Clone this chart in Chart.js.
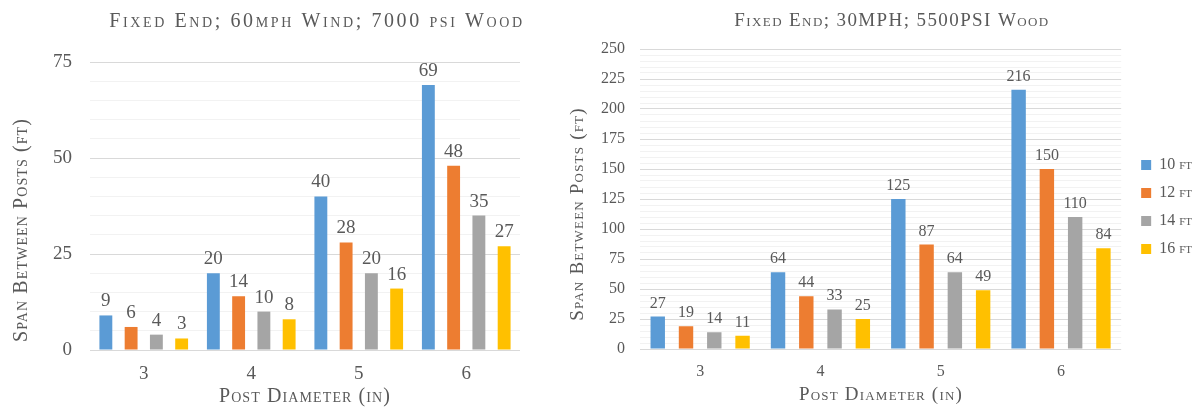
<!DOCTYPE html>
<html>
<head>
<meta charset="utf-8">
<script src="https://cdn.jsdelivr.net/npm/chart.js@4.4.1/dist/chart.umd.min.js"></script>
<style>
  html, body { margin: 0; padding: 0; background: #fff; overflow: hidden; }
  #wrap { position: relative; width: 1198px; height: 409px; }
  #left { position: absolute; left: 0; top: 0; width: 580px; height: 409px; }
  #right { position: absolute; left: 560px; top: 0; width: 638px; height: 409px; }
</style>
</head>
<body>
<div id="wrap">
  <div id="left"><canvas id="c1"></canvas></div>
  <div id="right"><canvas id="c2"></canvas></div>
</div>
<script>
// Post diameters (inches) shared by both charts
const diameters = ['3', '4', '5', '6'];
const postHeights = ['10 ft', '12 ft', '14 ft', '16 ft'];
const seriesColors = ['#5B9BD5', '#ED7D31', '#A5A5A5', '#FFC000'];

// Fixed end; 60 mph wind; 7000 psi wood: span between posts (ft)
const windSpan10 = [9, 20, 40, 69];
const windSpan12 = [6, 14, 28, 48];
const windSpan14 = [4, 10, 20, 35];
const windSpan16 = [3, 8, 16, 27];

// Fixed end; 30 mph; 5500 psi wood: span between posts (ft)
const lowSpan10 = [27, 64, 125, 216];
const lowSpan12 = [19, 44, 87, 150];
const lowSpan14 = [14, 33, 64, 110];
const lowSpan16 = [11, 25, 49, 84];

// Labelled (major) values on each value axis; minor lines every 5
const leftTicks = [0, 25, 50, 75];
const rightTicks = [0, 25, 50, 75, 100, 125, 150, 175, 200, 225, 250];

const SERIF = "'Liberation Serif', 'DejaVu Serif', serif";
const TEXT = '#595959';

// Writes each bar's value just above it
const valueLabels = {
  id: 'valueLabels',
  afterDatasetsDraw(chart, args, opts) {
    const ctx = chart.ctx;
    ctx.save();
    ctx.font = opts.size + 'px ' + SERIF;
    ctx.fillStyle = TEXT;
    ctx.textAlign = 'center';
    ctx.textBaseline = 'alphabetic';
    chart.data.datasets.forEach((ds, i) => {
      chart.getDatasetMeta(i).data.forEach((bar, j) => {
        ctx.fillText(String(ds.data[j]), bar.x, bar.y - opts.offset);
      });
    });
    ctx.restore();
  }
};

// Small-caps chart title and axis titles
function captionPlugin(items) {
  return {
    id: 'captions',
    afterDraw(chart) {
      const ctx = chart.ctx;
      items.forEach(it => {
        ctx.save();
        ctx.font = 'small-caps ' + it.size + 'px ' + SERIF;
        ctx.letterSpacing = it.spacing + 'px';
        ctx.fillStyle = TEXT;
        ctx.textAlign = 'center';
        ctx.textBaseline = 'middle';
        ctx.translate(it.x, it.y);
        if (it.vertical) ctx.rotate(-Math.PI / 2);
        ctx.fillText(it.text, 0, 0);
        ctx.restore();
      });
    }
  };
}

// Nudges the legend block after layout so it sits beside the upper plot
function legendNudge(dx, dy) {
  return {
    id: 'legendNudge',
    afterLayout(chart) {
      const lg = chart.legend;
      if (!lg) return;
      lg.left += dx; lg.right += dx;
      lg.top += dy; lg.bottom += dy;
    }
  };
}

function buildSets(arrays) {
  return arrays.map((arr, i) => ({
    label: postHeights[i],
    data: arr,
    backgroundColor: seriesColors[i],
    borderWidth: 0,
    categoryPercentage: 0.94,
    barPercentage: 0.51
  }));
}

function makeChart(id, cfg) {
  return new Chart(document.getElementById(id), {
    type: 'bar',
    data: { labels: diameters, datasets: buildSets(cfg.sets) },
    plugins: [valueLabels, captionPlugin(cfg.captions), legendNudge(cfg.legendDx || 0, cfg.legendDy || 0)],
    options: {
      responsive: true,
      maintainAspectRatio: false,
      animation: false,
      layout: { padding: cfg.padding },
      plugins: {
        valueLabels: { size: cfg.labelSize, offset: 9 },
        tooltip: { enabled: false },
        title: { display: false },
        legend: {
          display: cfg.legend,
          position: 'right',
          labels: {
            color: TEXT,
            boxWidth: 10,
            boxHeight: 10,
            padding: 12,
            font: { family: SERIF, size: 16, weight: 'small-caps' }
          }
        }
      },
      scales: {
        x: {
          grid: { display: false },
          border: { display: false },
          afterFit: s => { s.height = cfg.xAxisHeight; },
          ticks: { color: TEXT, font: { family: SERIF, size: cfg.tickSize }, padding: cfg.xTickPad }
        },
        y: {
          min: 0,
          max: cfg.max,
          border: { display: false },
          afterFit: s => { s.width = cfg.yAxisWidth; },
          grid: {
            drawTicks: false,
            lineWidth: 1,
            color: c => cfg.majors.includes(c.tick.value) ? '#D9D9D9' : '#F2F2F2'
          },
          ticks: {
            stepSize: 5,
            autoSkip: false,
            color: TEXT,
            padding: cfg.yTickPad,
            font: { family: SERIF, size: cfg.tickSize },
            callback: v => cfg.majors.includes(v) ? String(v) : ''
          }
        }
      }
    }
  });
}

makeChart('c1', {
  sets: [windSpan10, windSpan12, windSpan14, windSpan16],
  max: 75,
  majors: leftTicks,
  legend: false,
  tickSize: 19,
  labelSize: 19,
  xTickPad: 5,
  yTickPad: 18,
  yAxisWidth: 90,
  xAxisHeight: 59,
  padding: { left: 0, right: 60, top: 62, bottom: 0 },
  captions: [
    { text: 'Fixed End; 60mph Wind; 7000 psi Wood', x: 317, y: 22, size: 20, spacing: 2.6 },
    { text: 'Post Diameter (in)', x: 305, y: 397, size: 20, spacing: 1.1 },
    { text: 'Span Between Posts (ft)', x: 22, y: 230, size: 20, spacing: 1.1, vertical: true }
  ]
});

makeChart('c2', {
  sets: [lowSpan10, lowSpan12, lowSpan14, lowSpan16],
  max: 250,
  majors: rightTicks,
  legend: true,
  legendDx: 8,
  legendDy: -22,
  tickSize: 16,
  labelSize: 16,
  xTickPad: 5,
  yTickPad: 15,
  yAxisWidth: 80,
  xAxisHeight: 60,
  padding: { left: 0, right: 4, top: 49, bottom: 0 },
  captions: [
    { text: 'Fixed End; 30MPH; 5500PSI Wood', x: 332, y: 21, size: 19, spacing: 1.4 },
    { text: 'Post Diameter (in)', x: 321, y: 395, size: 19, spacing: 1.2 },
    { text: 'Span Between Posts (ft)', x: 18, y: 214, size: 19, spacing: 1.2, vertical: true }
  ]
});
</script>
</body>
</html>
